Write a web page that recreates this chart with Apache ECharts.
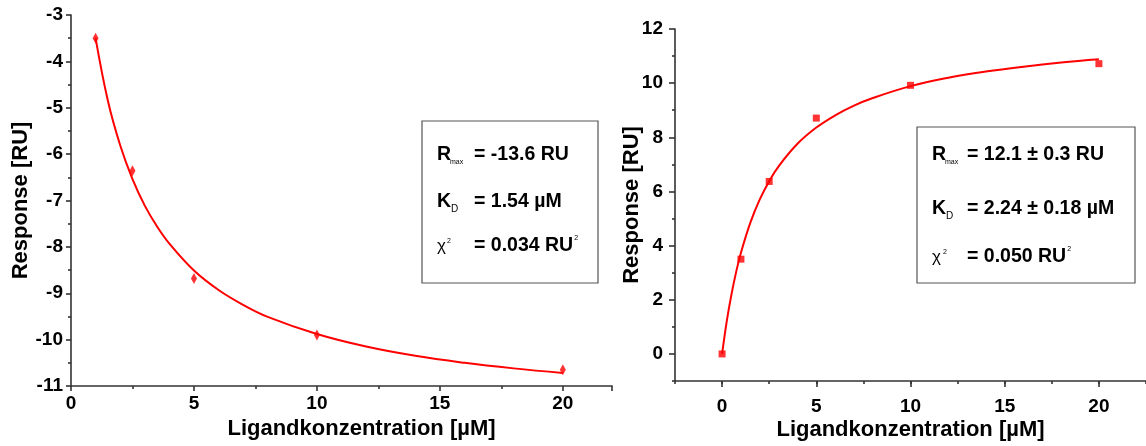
<!DOCTYPE html>
<html>
<head>
<meta charset="utf-8">
<script src="https://cdn.jsdelivr.net/npm/echarts@6/dist/echarts.min.js"></script>
<style>
  html, body { margin: 0; padding: 0; background: #fff; }
  #chart { width: 1146px; height: 446px; }
</style>
</head>
<body>
<div id="chart"></div>
<script>
// Left panel: negative binding response
const leftConc = [1, 2.5, 5, 10, 20];
const leftResp = [-3.5, -6.36, -8.68, -9.9, -10.65];
// fitted 1:1 binding curve (left)
const leftFitConc = [1, 1.5, 2, 2.5, 3, 3.5, 4, 5, 6, 7, 8, 10, 12, 14, 16, 18, 20];
const leftFitResp = [-3.5, -4.85, -5.81, -6.54, -7.11, -7.56, -7.93, -8.51, -8.93, -9.25, -9.51, -9.88, -10.15, -10.35, -10.5, -10.62, -10.72];

// Right panel: positive binding response
const rightConc = [0, 1, 2.5, 5, 10, 20];
const rightResp = [0, 3.5, 6.37, 8.71, 9.92, 10.72];
// fitted 1:1 binding curve (right)
const rightFitConc = [0, 0.25, 0.5, 0.75, 1, 1.5, 2, 2.5, 3, 4, 5, 6, 7, 8, 10, 12, 14, 16, 18, 20];
const rightFitResp = [0, 1.22, 2.21, 3.04, 3.74, 4.85, 5.71, 6.38, 6.93, 7.76, 8.36, 8.81, 9.17, 9.45, 9.89, 10.2, 10.43, 10.61, 10.76, 10.88];

// Tick label values
const rightYTicks = [0, 2, 4, 6, 8, 10, 12];
const rightYMinor = [-1, 1, 3, 5, 7, 9, 11];
const rightXTicks = [0, 5, 10, 15, 20];

const xName = 'Ligandkonzentration [µM]';
const yName = 'Response [RU]';

const FONT = '"Liberation Sans", Arial, sans-serif';
const RED = '#ff0000';
const AXIS = '#333333';

const pairs = (xs, ys) => xs.map((x, i) => [x, ys[i]]);

const lineStyle = { color: AXIS, width: 1.6 };
const labelStyle = { color: '#000', fontSize: 19, fontWeight: 'bold', fontFamily: FONT };
const nameStyle = { color: '#000', fontSize: 22, fontWeight: 'bold', fontFamily: FONT };

const chart = echarts.init(document.getElementById('chart'), null, { renderer: 'canvas' });

const BOX_SIZE = 19.5;

function boxText(x, y, text, size, bold) {
  return {
    type: 'text', x: x, y: y, z: 10,
    style: {
      text: text, fill: '#000',
      font: (bold ? 'bold ' : '') + size + 'px ' + FONT,
      verticalAlign: 'middle', align: 'left'
    }
  };
}

// value text followed by a small raised "2"
function boxTextSquared(x, y, text) {
  return {
    type: 'text', x: x, y: y, z: 10,
    style: {
      text: '{v|' + text + '}{s|2}',
      verticalAlign: 'middle', align: 'left',
      rich: {
        v: { fill: '#000', fontSize: BOX_SIZE, fontWeight: 'bold', fontFamily: FONT, lineHeight: 22 },
        s: { fill: '#000', fontSize: 7, fontFamily: FONT, verticalAlign: 'top', lineHeight: 22, padding: [0, 0, 0, 1] }
      }
    }
  };
}

const option = {
  backgroundColor: '#fff',
  animation: false,
  grid: [
    { left: 71, top: 15, right: 534, bottom: 60 },
    { left: 675, top: 29, right: -5, bottom: 61 }
  ],
  xAxis: [
    {
      gridIndex: 0, type: 'value', min: 0, max: 22, interval: 5, position: 'bottom',
      axisLine: { show: true, onZero: false, lineStyle: lineStyle },
      axisTick: { show: true, length: 5, lineStyle: lineStyle },
      minorTick: { show: true, splitNumber: 2, length: 3, lineStyle: lineStyle },
      splitLine: { show: false },
      axisLabel: Object.assign({ margin: 8, showMaxLabel: false }, labelStyle),
      name: xName, nameLocation: 'middle', nameGap: 31,
      nameTextStyle: Object.assign({ padding: [0, 0, 0, 40] }, nameStyle)
    },
    {
      gridIndex: 1, type: 'value', min: -2.5, max: 22.5, interval: 2.5, position: 'bottom',
      axisLine: { show: true, onZero: false, lineStyle: lineStyle },
      axisTick: { show: true, length: 3, lineStyle: lineStyle },
      splitLine: { show: false },
      axisLabel: { show: false },
      name: xName, nameLocation: 'middle', nameGap: 38,
      nameTextStyle: nameStyle
    },
    {
      gridIndex: 1, type: 'value', min: -2.5, max: 22.5, position: 'bottom',
      axisLine: { show: false, onZero: false },
      axisTick: { show: true, length: 6, lineStyle: lineStyle, customValues: rightXTicks },
      splitLine: { show: false },
      axisLabel: Object.assign({ margin: 16, customValues: rightXTicks }, labelStyle)
    }
  ],
  yAxis: [
    {
      gridIndex: 0, type: 'value', min: -11, max: -3, interval: 1, position: 'left',
      axisLine: { show: true, onZero: false, lineStyle: lineStyle },
      axisTick: { show: true, length: 5, lineStyle: lineStyle },
      minorTick: { show: true, splitNumber: 2, length: 3, lineStyle: lineStyle },
      splitLine: { show: false },
      axisLabel: Object.assign({ margin: 8 }, labelStyle),
      name: yName, nameLocation: 'middle', nameGap: 37,
      nameTextStyle: nameStyle
    },
    {
      gridIndex: 1, type: 'value', min: -1, max: 12, position: 'left',
      axisLine: { show: true, onZero: false, lineStyle: lineStyle },
      axisTick: { show: true, length: 3, lineStyle: lineStyle, customValues: rightYMinor },
      splitLine: { show: false },
      axisLabel: { show: false },
      name: yName, nameLocation: 'middle', nameGap: 32,
      nameTextStyle: nameStyle
    },
    {
      gridIndex: 1, type: 'value', min: -1, max: 12, position: 'left',
      axisLine: { show: false, onZero: false },
      axisTick: { show: true, length: 6, lineStyle: lineStyle, customValues: rightYTicks },
      splitLine: { show: false },
      axisLabel: Object.assign({ margin: 12, customValues: rightYTicks }, labelStyle)
    }
  ],
  series: [
    {
      type: 'line', xAxisIndex: 0, yAxisIndex: 0, smooth: 0.4,
      data: pairs(leftFitConc, leftFitResp), showSymbol: false, symbol: 'none',
      lineStyle: { color: RED, width: 2 }, z: 3
    },
    {
      type: 'scatter', xAxisIndex: 0, yAxisIndex: 0,
      data: pairs(leftConc, leftResp), symbol: 'diamond', symbolSize: [6, 11],
      itemStyle: { color: RED }, z: 4
    },
    {
      type: 'line', xAxisIndex: 1, yAxisIndex: 1, smooth: 0.4,
      data: pairs(rightFitConc, rightFitResp), showSymbol: false, symbol: 'none',
      lineStyle: { color: RED, width: 2 }, z: 3
    },
    {
      type: 'scatter', xAxisIndex: 1, yAxisIndex: 1,
      data: pairs(rightConc, rightResp), symbol: 'rect', symbolSize: 7,
      itemStyle: { color: RED }, z: 4
    }
  ],
  graphic: [
    // left fit parameters
    { type: 'rect', shape: { x: 422, y: 121, width: 176, height: 162 },
      style: { fill: '#fff', stroke: '#555', lineWidth: 1.2 }, z: 9 },
    boxText(437, 155, 'R', BOX_SIZE, true),
    boxText(450, 162, 'max', 7, false),
    boxText(474, 155, '= -13.6 RU', BOX_SIZE, true),
    boxText(437, 202, 'K', BOX_SIZE, true),
    boxText(451, 209, 'D', 10, false),
    boxText(474, 202, '= 1.54 µM', BOX_SIZE, true),
    boxText(437, 246, 'χ', 17, false),
    boxText(447, 241, '2', 7, false),
    boxTextSquared(474, 246, '= 0.034 RU'),
    // right fit parameters
    { type: 'rect', shape: { x: 917, y: 127, width: 218, height: 156 },
      style: { fill: '#fff', stroke: '#555', lineWidth: 1.2 }, z: 9 },
    boxText(932, 155, 'R', BOX_SIZE, true),
    boxText(945, 162, 'max', 7, false),
    boxText(967, 155, '= 12.1 ± 0.3 RU', BOX_SIZE, true),
    boxText(932, 209, 'K', BOX_SIZE, true),
    boxText(946, 216, 'D', 10, false),
    boxText(967, 209, '= 2.24 ± 0.18 µM', BOX_SIZE, true),
    boxText(932, 257, 'χ', 17, false),
    boxText(943, 252, '2', 7, false),
    boxTextSquared(967, 257, '= 0.050 RU')
  ]
};

chart.setOption(option);
</script>
</body>
</html>
